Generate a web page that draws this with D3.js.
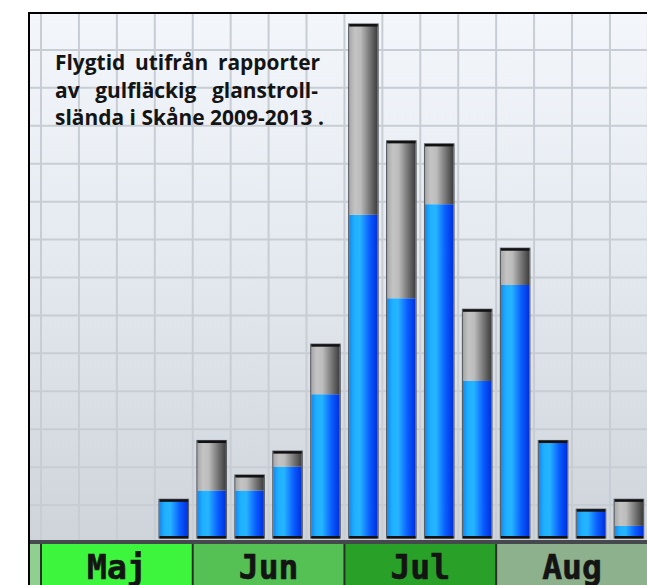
<!DOCTYPE html>
<html>
<head>
<meta charset="utf-8">
<script src="https://cdn.jsdelivr.net/npm/d3@7"></script>
<style>
  html, body { margin: 0; padding: 0; background: #fff; }
  svg { display: block; }
</style>
</head>
<body>
<svg id="chart" width="647" height="585"></svg>
<script>
// quarter-month periods along the x axis
const months = ['Maj', 'Jun', 'Jul', 'Aug'];
const periods = [
  'Maj 1', 'Maj 2', 'Maj 3', 'Maj 4',
  'Jun 1', 'Jun 2', 'Jun 3', 'Jun 4',
  'Jul 1', 'Jul 2', 'Jul 3', 'Jul 4',
  'Aug 1', 'Aug 2', 'Aug 3', 'Aug 4'
];
// blue (lower) and gray (upper) parts of each stacked bar
const blueValues = [0, 0, 0, 10.2, 12.5, 12.5, 18.8, 37.9, 85.2, 63.2, 88.0, 41.4, 66.7, 25.7, 7.6, 3.2];
const grayValues = [0, 0, 0, 0, 13.2, 4.1, 4.1, 13.2, 50.3, 41.5, 15.9, 18.9, 9.7, 0, 0, 7.0];
const monthColors = ['#3ef53e', '#55c155', '#29a129', '#8db08d'];
const titleLines = [
  'Flygtid utifrån rapporter',
  'av gulfläckig glanstroll-',
  'slända i Skåne 2009-2013 .'
];

const W = 647, H = 585;
const frameL = 28, frameT = 12;
const slotL = 41, slot = 37.93;
const svg = d3.select('#chart');
const defs = svg.append('defs');

function grad(id, stops, vertical) {
  const g = defs.append('linearGradient').attr('id', id)
    .attr('x1', 0).attr('y1', 0)
    .attr('x2', vertical ? 0 : 1).attr('y2', vertical ? 1 : 0);
  stops.forEach(([o, c]) => g.append('stop').attr('offset', o).attr('stop-color', c));
}
grad('bg', [[0, '#f3f7fc'], [0.45, '#e5eaf0'], [1, '#cfd4db']], true);
grad('blue', [[0, '#1688ee'], [0.18, '#1eb0ff'], [0.38, '#26b4ff'], [0.72, '#0a5cff'], [1, '#0030dd']]);
grad('gray', [[0, '#a8a8a8'], [0.2, '#c4c4c4'], [0.4, '#bcbcbc'], [0.75, '#707070'], [1, '#3c3c3c']]);
defs.append('filter').attr('id', 'soft')
  .append('feGaussianBlur').attr('stdDeviation', 0.6);

// scales
const x = d3.scaleBand().domain(periods)
  .range([slotL, slotL + slot * periods.length])
  .paddingInner(0.25).paddingOuter(0.125);
const xMonth = d3.scaleBand().domain(months)
  .range([slotL, slotL + slot * periods.length]);
const y = d3.scaleLinear().domain([0, 140]).range([538, 538 - 140 * slot / 10]);
const yGrid = d3.scaleLinear().domain([0, 14]).range([543, 543 - 14 * slot]);

// plot background
svg.append('rect')
  .attr('x', frameL).attr('y', frameT)
  .attr('width', W - frameL + 10).attr('height', 540 - frameT)
  .attr('fill', 'url(#bg)');

// grid
const grid = svg.append('g').attr('filter', 'url(#soft)')
  .attr('stroke', '#c8cdd3').attr('stroke-width', 2);
grid.selectAll('line.h').data(d3.range(1, 14)).join('line')
  .attr('class', 'h')
  .attr('x1', frameL).attr('x2', W + 10)
  .attr('y1', d => yGrid(d)).attr('y2', d => yGrid(d));
grid.selectAll('line.v').data(d3.range(0, periods.length + 1)).join('line')
  .attr('class', 'v')
  .attr('x1', d => slotL + d * slot).attr('x2', d => slotL + d * slot)
  .attr('y1', frameT).attr('y2', 540);

// stacked bars
const rows = periods.map((p, i) => ({ period: p, blue: blueValues[i], gray: grayValues[i] }));
const stack = d3.stack().keys(['blue', 'gray'])(rows);
const bars = rows.filter(d => d.blue + d.gray > 0);

const barG = svg.append('g');
stack.forEach(layer => {
  barG.append('g')
    .selectAll('rect')
    .data(layer.filter(s => s[1] > s[0]))
    .join('rect')
    .attr('x', s => x(s.data.period))
    .attr('width', x.bandwidth())
    .attr('y', s => y(s[1]))
    .attr('height', s => y(s[0]) - y(s[1]))
    .attr('fill', layer.key === 'blue' ? 'url(#blue)' : 'url(#gray)');
});

// outlines and caps
barG.append('g').selectAll('rect').data(bars).join('rect')
  .attr('x', d => x(d.period) - 0.5)
  .attr('width', x.bandwidth() + 1)
  .attr('y', d => y(d.blue + d.gray))
  .attr('height', d => y(0) - y(d.blue + d.gray))
  .attr('fill', 'none').attr('stroke', '#5a5e64').attr('stroke-width', 1.2)
  .attr('filter', 'url(#soft)');
barG.append('g').selectAll('rect').data(bars).join('rect')
  .attr('x', d => x(d.period))
  .attr('width', x.bandwidth())
  .attr('y', d => y(d.blue + d.gray))
  .attr('height', 2.5)
  .attr('fill', '#111');
barG.append('g').selectAll('rect').data(bars).join('rect')
  .attr('x', d => x(d.period))
  .attr('width', x.bandwidth())
  .attr('y', y(0) - 2)
  .attr('height', 2.5)
  .attr('fill', '#111');

// axis line
svg.append('rect').attr('x', frameL).attr('y', 540)
  .attr('width', W).attr('height', 4).attr('fill', '#45484c');

// month band
svg.append('rect').attr('x', frameL).attr('y', 544)
  .attr('width', slotL - frameL).attr('height', H - 544).attr('fill', '#8fcf8f');
const band = svg.append('g');
band.selectAll('rect').data(months).join('rect')
  .attr('x', d => xMonth(d)).attr('y', 544)
  .attr('width', xMonth.bandwidth()).attr('height', H - 544)
  .attr('fill', (d, i) => monthColors[i]);
band.selectAll('line').data(months).join('line')
  .attr('x1', d => xMonth(d)).attr('x2', d => xMonth(d))
  .attr('y1', 544).attr('y2', H)
  .attr('stroke', '#2b2f2b').attr('stroke-width', 2);
band.selectAll('text').data(months).join('text')
  .attr('x', d => xMonth(d) + xMonth.bandwidth() / 2)
  .attr('y', 579)
  .attr('text-anchor', 'middle')
  .attr('font-family', '"DejaVu Sans Mono", monospace')
  .attr('font-weight', 'bold')
  .attr('font-size', 33)
  .attr('fill', '#141414')
  .attr('stroke', '#141414').attr('stroke-width', 0.6)
  .text(d => d);

// frame
svg.append('line').attr('x1', frameL).attr('x2', W).attr('y1', frameT + 1).attr('y2', frameT + 1)
  .attr('stroke', '#000').attr('stroke-width', 2);
svg.append('line').attr('x1', frameL + 1).attr('x2', frameL + 1).attr('y1', frameT).attr('y2', H)
  .attr('stroke', '#000').attr('stroke-width', 2);

// title: size set so the last line fits, others justified by word spacing
const titleWidths = [265, 263, 269];
const title = svg.append('g')
  .attr('font-family', '"Open Sans", sans-serif')
  .attr('font-weight', 700)
  .attr('font-size', 17.5)
  .attr('fill', '#141414');
const titleText = title.selectAll('text').data(titleLines).join('text')
  .attr('x', 55)
  .attr('y', (d, i) => 70 + i * 27.5)
  .text(d => d);
const lastLen = titleText.nodes()[2].getComputedTextLength();
title.attr('font-size', Math.min(21, 17.5 * titleWidths[2] / lastLen));
titleText.each(function(d, i) {
  const natural = this.getComputedTextLength();
  const spaces = d.split(' ').length - 1;
  d3.select(this).attr('word-spacing', (titleWidths[i] - natural) / spaces);
});
</script>
</body>
</html>
